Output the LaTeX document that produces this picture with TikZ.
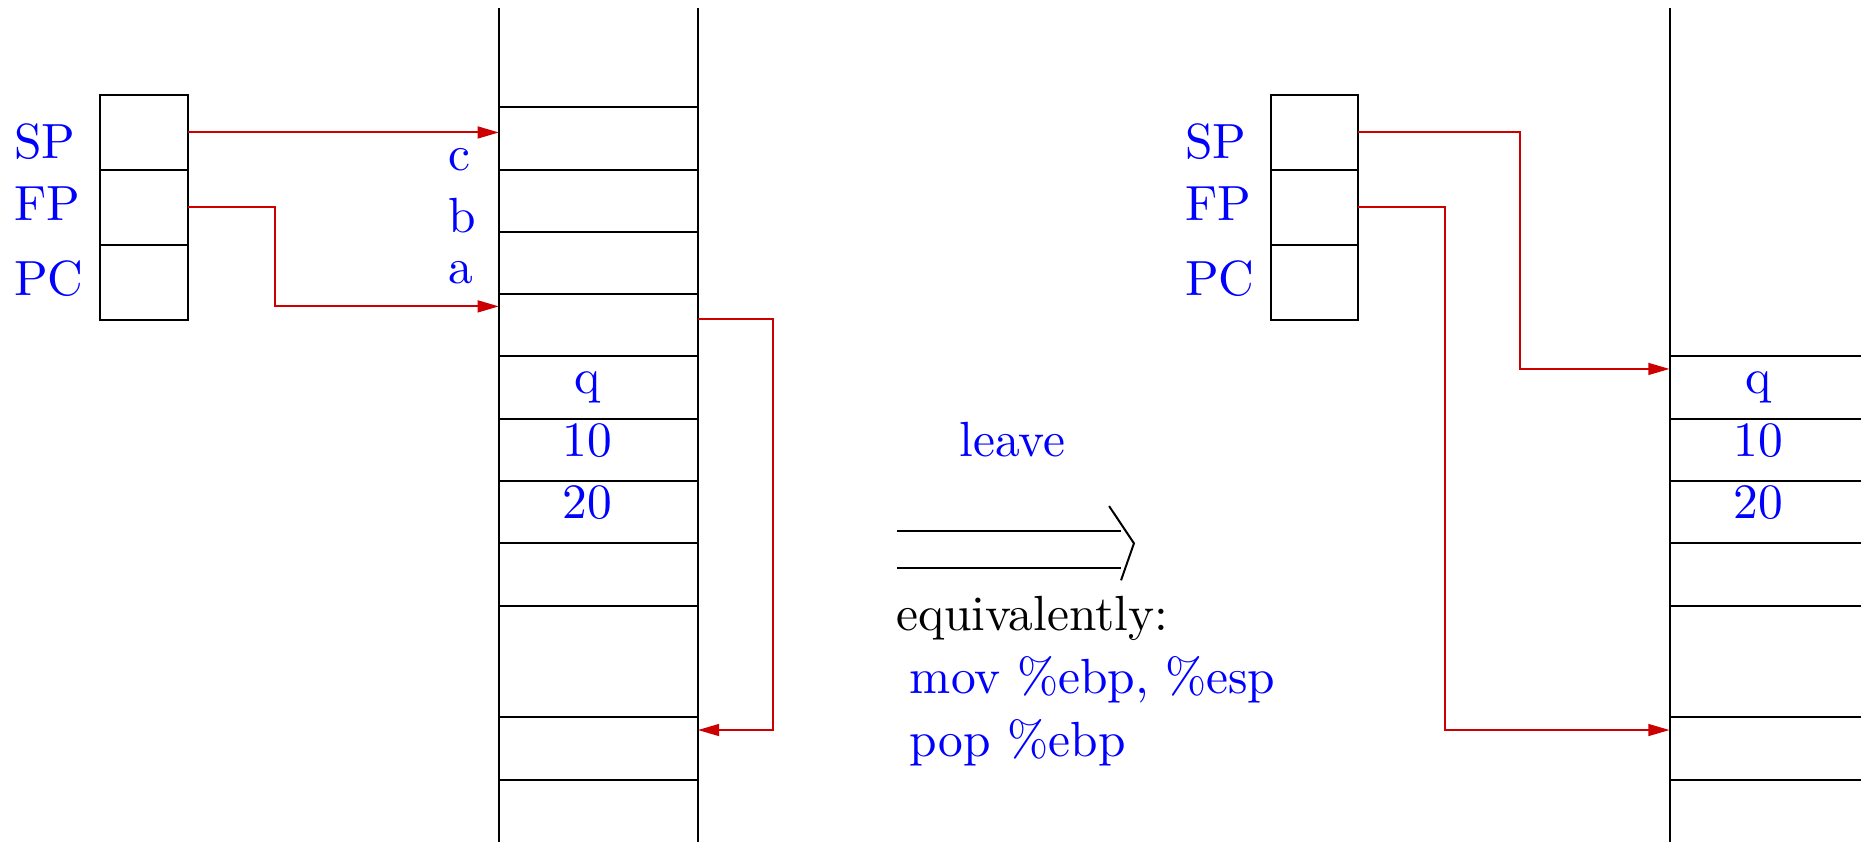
\documentclass[tikz,border=0pt]{standalone}
\usepackage{tikz}
\usetikzlibrary{arrows.meta, positioning}

\begin{document}
\begin{tikzpicture}[
    reg/.style={draw, minimum width=0.623cm, minimum height=0.533cm, inner sep=0pt, outer sep=0pt},
    lbl/.style={text=blue, anchor=base west, inner sep=0pt},
    val/.style={text=blue, anchor=base, inner sep=0pt},
    ptr/.style={draw=red!80!black, -{Triangle[length=4.3pt, width=2.4pt]}}
]
\useasboundingbox (0,0) rectangle (13.236,-5.989);
\clip (0,0) rectangle (13.236,-5.989);
% registers before
\node[reg] (sp) at (1.023,-0.942) {};
\node[reg, below=0pt of sp] (fp) {};
\node[reg, below=0pt of fp] (pc) {};
\node[lbl] (lsp) at (0.095,-1.124) {SP};
\node[lbl] (lfp) at (0.095,-1.565) {FP};
\node[lbl] (lpc) at (0.095,-2.098) {PC};
% stack before
\draw (3.548,-0.057) -- (3.548,-5.989) (4.964,-0.057) -- (4.964,-5.989);
\foreach \y in {0.763,1.206,1.649,2.092,2.535,2.978,3.421,3.864,4.307,5.102,5.545}
  \draw (3.548,-\y) -- (4.964,-\y);
\node[lbl] (lc) at (3.18,-1.209) {c};
\node[lbl] (lb) at (3.18,-1.650) {b};
\node[lbl] (la) at (3.18,-2.013) {a};
\node[val] (q1) at (4.178,-2.795) {q};
\node[val] (ten1) at (4.178,-3.250) {10};
\node[val] (tw1) at (4.178,-3.691) {20};
\coordinate (top1) at (3.548,-0.942);
\coordinate (fr1) at (3.548,-2.179);
\coordinate (ret0) at (4.964,-2.267);
\coordinate (ret1) at (4.964,-5.192);
\draw[ptr] (sp.east) -- (top1);
\draw[ptr] (fp.east) -- ++(0.621,0) |- (fr1);
\draw[ptr] (ret0) -- ++(0.532,0) |- (ret1);
% the step
\node[lbl] (leave) at (6.817,-3.250) {leave};
\draw (6.382,-3.777) -- (7.973,-3.777) (6.382,-4.042) -- (7.973,-4.042);
\draw (7.888,-3.599) -- (8.065,-3.864) -- (7.973,-4.127);
\node[anchor=base west, inner sep=0pt] (eq) at (6.368,-4.486) {equivalently:};
\node[lbl] (mov) at (6.465,-4.931) {mov \%ebp, \%esp};
\node[lbl] (pop) at (6.465,-5.377) {pop \%ebp};
% registers after
\node[reg] (sp2) at (9.349,-0.942) {};
\node[reg, below=0pt of sp2] (fp2) {};
\node[reg, below=0pt of fp2] (pc2) {};
\node[lbl] (lsp2) at (8.421,-1.124) {SP};
\node[lbl] (lfp2) at (8.421,-1.565) {FP};
\node[lbl] (lpc2) at (8.421,-2.098) {PC};
% stack after
\draw (11.874,-0.057) -- (11.874,-5.989) (13.29,-0.057) -- (13.29,-5.989);
\foreach \y in {2.535,2.978,3.421,3.864,4.307,5.102,5.545}
  \draw (11.874,-\y) -- (13.29,-\y);
\node[val] (q2) at (12.504,-2.795) {q};
\node[val] (ten2) at (12.504,-3.250) {10};
\node[val] (tw2) at (12.504,-3.691) {20};
\coordinate (top2) at (11.874,-2.624);
\coordinate (fr2) at (11.874,-5.192);
\draw[ptr] (sp2.east) -- ++(1.148,0) |- (top2);
\draw[ptr] (fp2.east) -- ++(0.619,0) |- (fr2);
\end{tikzpicture}
\end{document}
